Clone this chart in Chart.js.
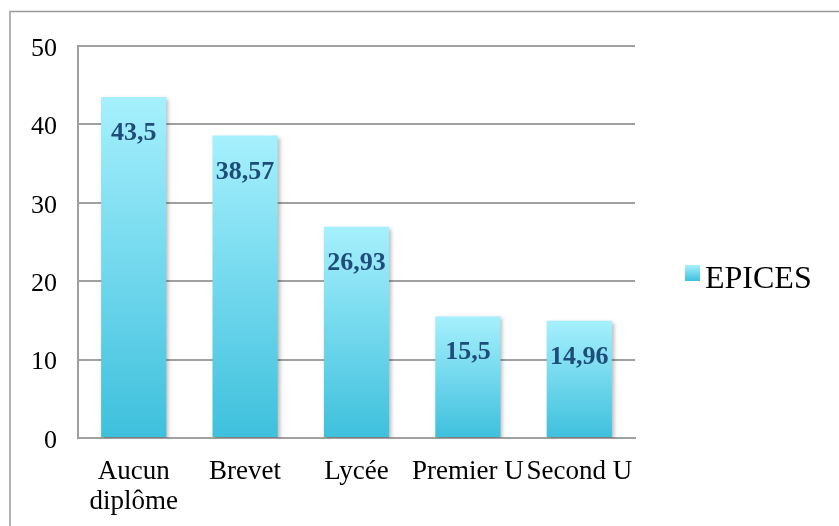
<!DOCTYPE html>
<html>
<head>
<meta charset="utf-8">
<script src="https://cdn.jsdelivr.net/npm/chart.js@4/dist/chart.umd.min.js"></script>
<style>
  html, body { margin: 0; padding: 0; background: #fff; }
  #wrap { width: 839px; height: 526px; position: relative; }
</style>
</head>
<body>
<div id="wrap"><canvas id="chart" width="839" height="526"></canvas></div>
<script>
// Données
const categories = [['Aucun', 'diplôme'], 'Brevet', 'Lycée', 'Premier U', 'Second U'];
const seriesName = 'EPICES';
const epicesValues = [43.5, 38.57, 26.93, 15.5, 14.96];
const yTicks = [0, 10, 20, 30, 40, 50];

const FONT = '"Liberation Serif", "Times New Roman", serif';

function barGradient(ctx, top, bottom) {
    const g = ctx.createLinearGradient(0, top, 0, bottom);
    g.addColorStop(0, '#a6f0fd');
    g.addColorStop(1, '#3ec0dd');
    return g;
}

// Cadre gris autour du graphique
const framePlugin = {
    id: 'frame',
    beforeDraw(chart) {
        const c = chart.ctx;
        c.save();
        c.strokeStyle = '#9a9a9a';
        c.lineWidth = 1.5;
        c.strokeRect(10, 11.5, chart.width + 20, chart.height + 20);
        c.restore();
    }
};

// Ombre légère sous les barres
const shadowPlugin = {
    id: 'barShadow',
    beforeDatasetDraw(chart) {
        const c = chart.ctx;
        c.save();
        c.shadowColor = 'rgba(0,0,0,0.28)';
        c.shadowBlur = 4;
        c.shadowOffsetX = 2;
        c.shadowOffsetY = 2;
    },
    afterDatasetDraw(chart) {
        chart.ctx.restore();
    }
};

// Étiquettes de valeurs dans les barres
const valueLabels = {
    id: 'valueLabels',
    afterDatasetsDraw(chart) {
        const c = chart.ctx;
        const meta = chart.getDatasetMeta(0);
        c.save();
        c.font = 'bold 26px ' + FONT;
        c.fillStyle = '#1f4d7a';
        c.textAlign = 'center';
        c.textBaseline = 'alphabetic';
        meta.data.forEach((bar, i) => {
            const txt = String(epicesValues[i]).replace('.', ',');
            c.fillText(txt, bar.x, bar.y + 43);
        });
        c.restore();
    }
};

// Légende à droite
const sideLegend = {
    id: 'sideLegend',
    afterDraw(chart) {
        const c = chart.ctx;
        c.save();
        c.fillStyle = barGradient(c, 265, 281);
        c.fillRect(685, 265, 15, 16);
        c.font = '32px ' + FONT;
        c.fillStyle = '#000';
        c.textBaseline = 'alphabetic';
        c.fillText(chart.data.datasets[0].label, 705, 288);
        c.restore();
    }
};

new Chart(document.getElementById('chart'), {
    type: 'bar',
    data: {
        labels: categories,
        datasets: [{
            label: seriesName,
            data: epicesValues,
            backgroundColor(context) {
                const chart = context.chart;
                const y = chart.scales.y;
                if (!y || context.dataIndex === undefined) return '#6fd6ee';
                const top = y.getPixelForValue(epicesValues[context.dataIndex]);
                const bottom = y.getPixelForValue(0);
                if (!isFinite(top) || !isFinite(bottom) || top === bottom) return '#6fd6ee';
                return barGradient(chart.ctx, top, bottom);
            },
            borderWidth: 0,
            categoryPercentage: 0.585,
            barPercentage: 1
        }]
    },
    options: {
        responsive: false,
        animation: false,
        devicePixelRatio: 1,
        layout: { padding: { top: 46, right: 204, left: 0, bottom: 0 } },
        plugins: {
            legend: { display: false },
            tooltip: { enabled: false }
        },
        scales: {
            x: {
                grid: { display: false, drawTicks: false },
                border: { display: true, color: '#a0a0a0', width: 2 },
                ticks: {
                    color: '#000',
                    font: { family: FONT, size: 27, lineHeight: 1.1 },
                    padding: 19,
                    maxRotation: 0,
                    autoSkip: false
                },
                afterFit(scale) { scale.height = 88; }
            },
            y: {
                min: 0,
                max: 50,
                afterBuildTicks(scale) {
                    scale.ticks = yTicks.map(v => ({ value: v }));
                },
                grid: { color: '#a0a0a0', lineWidth: 2, drawTicks: false },
                border: { display: true, color: '#a0a0a0', width: 2 },
                ticks: {
                    color: '#000',
                    font: { family: FONT, size: 26 },
                    padding: 21,
                    labelOffset: 3
                },
                afterFit(scale) { scale.width = 78; }
            }
        }
    },
    plugins: [framePlugin, shadowPlugin, valueLabels, sideLegend]
});
</script>
</body>
</html>
